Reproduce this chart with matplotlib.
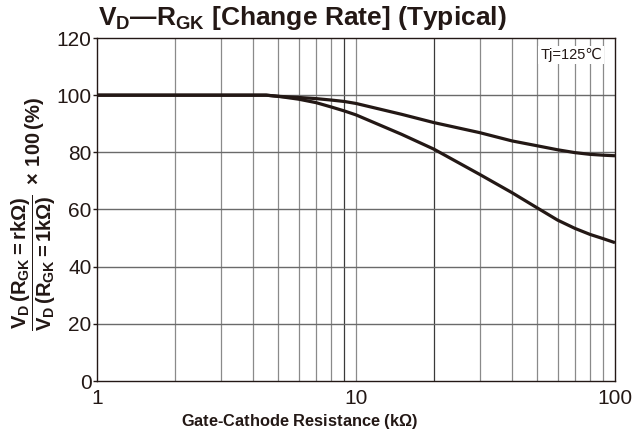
import numpy as np
import matplotlib
matplotlib.use('Agg')
import matplotlib.pyplot as plt
from matplotlib.ticker import FixedLocator, NullFormatter

# Fonts
plt.rcParams['font.family'] = ['Liberation Sans Narrow', 'Liberation Sans', 'DejaVu Sans']
plt.rcParams['mathtext.fontset'] = 'custom'
plt.rcParams['mathtext.rm'] = 'Liberation Sans:bold'
plt.rcParams['mathtext.it'] = 'Liberation Sans:bold'
plt.rcParams['mathtext.bf'] = 'Liberation Sans:bold'

# --- data --- #
r_gk = [1, 2, 3, 4, 4.5, 5, 6, 7, 8, 9, 10, 15, 20, 30, 40, 50, 60, 70, 80, 90, 100]
rate_upper = [100, 100, 100, 100, 100, 99.6, 99.2, 98.8, 98.3, 97.8, 97.1, 93.3,
              90.4, 86.9, 84.0, 82.3, 80.9, 79.9, 79.3, 79.0, 78.8]
rate_lower = [100, 100, 100, 100, 100, 99.6, 98.6, 97.4, 95.9, 94.5, 93.1, 86.3,
              81.1, 72.3, 65.9, 60.6, 56.3, 53.4, 51.3, 49.8, 48.4]

y_ticks = [0, 20, 40, 60, 80, 100, 120]
x_ticks = [1, 10, 100]
x_grid = [2, 3, 4, 5, 6, 7, 8, 9, 10, 20, 30, 40, 50, 60, 70, 80, 90]
x_grid_dark = [9, 20]

ink = '#231815'

fig = plt.figure(figsize=(6.43, 4.36), dpi=100)
ax = fig.add_axes([97 / 643, 55 / 436, 518 / 643, 343 / 436])

ax.set_xscale('log')
ax.set_xlim(1, 100)
ax.set_ylim(0, 120)

# grid
for g in x_grid:
    c = '#3a3a3a' if g in x_grid_dark else '#8a8a8a'
    ax.axvline(g, color=c, lw=0.9, zorder=1)
for g in y_ticks[1:-1]:
    ax.axhline(g, color='#6a6a6a', lw=1.0, zorder=1)

ax.plot(r_gk, rate_upper, color=ink, lw=2.3, solid_capstyle='butt', zorder=3)
ax.plot(r_gk, rate_lower, color=ink, lw=2.3, solid_capstyle='butt', zorder=3)

ax.xaxis.set_major_locator(FixedLocator(x_ticks))
ax.xaxis.set_minor_locator(FixedLocator([]))
ax.xaxis.set_minor_formatter(NullFormatter())
ax.set_xticklabels(['1', '10', '100'])
ax.set_yticks(y_ticks)
ax.tick_params(axis='x', length=0, pad=6, labelsize=15, colors=ink)
ax.tick_params(axis='y', length=3, width=1, direction='out', pad=1, labelsize=15, colors=ink)

for s in ax.spines.values():
    s.set_color(ink)
    s.set_linewidth(1.0)

ax.text(0.975, 0.95, 'Tj=125℃', transform=ax.transAxes, ha='right', va='center',
        fontsize=10.5, color=ink, zorder=4,
        bbox=dict(facecolor='white', edgecolor='none', pad=1.5))

# title
fig.text(98 / 643, 1 - 25 / 436, r'$\mathrm{V_D}$—$\mathrm{R_{GK}}$ [Change Rate] (Typical)',
         ha='left', va='baseline', fontsize=19, fontweight='bold', color=ink,
         family=['Liberation Sans', 'DejaVu Sans'])

# axis labels
fig.text(300 / 643, 1 - 421 / 436, r'Gate-Cathode Resistance (k$\Omega$)',
         ha='center', va='center', fontsize=11.8, fontweight='bold', color=ink,
         family=['Liberation Sans', 'DejaVu Sans'])
fig.text(34 / 643, 1 - 214 / 436,
         r'$\dfrac{\mathrm{V_D\,(R_{GK}=rk\Omega)}}{\mathrm{V_D\,(R_{GK}=1k\Omega)}}\ \times\,100\,(\%)$',
         ha='center', va='center', rotation=90, fontsize=14.5, color=ink)

fig.savefig('out.png', dpi=100)
